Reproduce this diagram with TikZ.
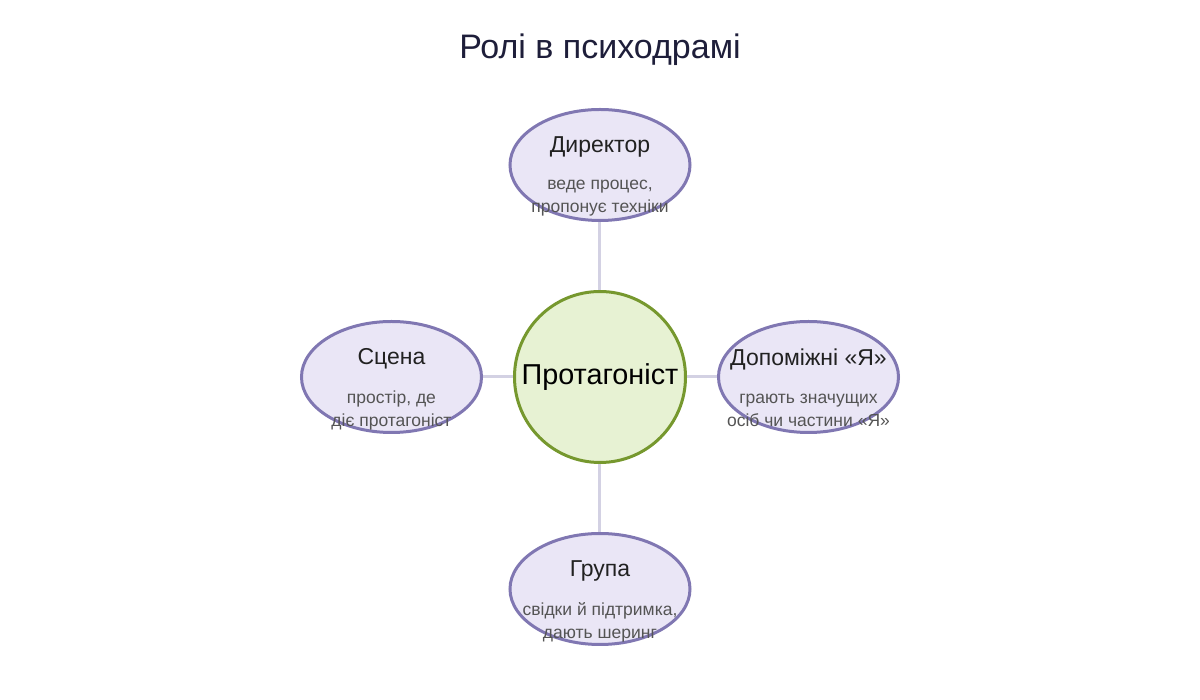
\documentclass[tikz,border=0pt]{standalone}
\usepackage{fontspec}
\setmainfont{Liberation Sans}
\usetikzlibrary{positioning,shapes.geometric}

\definecolor{hubfill}{HTML}{E7F2D3}
\definecolor{hubline}{HTML}{76982E}
\definecolor{rolefill}{HTML}{EAE6F6}
\definecolor{roleline}{HTML}{8077B2}
\definecolor{linkcol}{HTML}{D3D1E3}
\definecolor{headcol}{HTML}{1E1E3A}

\begin{document}
\begin{tikzpicture}[
    x=1pt, y=1pt,
    node distance=68pt,
    hub/.style={circle, draw=hubline, fill=hubfill, line width=3pt, minimum size=171pt, inner sep=0pt, font=\fontsize{28.8}{32}\selectfont},
    role/.style={ellipse, draw=roleline, fill=rolefill, line width=3pt, minimum width=180pt, minimum height=111pt, inner sep=0pt},
    roletitle/.style={text=black!87, font=\fontsize{23}{27}\selectfont},
    roledesc/.style={text=black!67, align=center, font=\fontsize{17.5}{23}\selectfont},
    link/.style={draw=linkcol, line width=3pt},
    heading/.style={text=headcol, font=\fontsize{34}{40}\selectfont}
]
\useasboundingbox (-600,-323) rectangle (600,377);

\node[heading] (title) at (0,327) {Ролі в психодрамі};

\node[hub] (hub) {Протагоніст};
\node[role, above=of hub] (dir) {};
\node[role, below=of hub] (group) {};
\node[role, left=30pt of hub] (stage) {};
\node[role, right=30pt of hub] (aux) {};

\draw[link] (hub) -- (dir);
\draw[link] (hub) -- (group);
\draw[link] (hub) -- (stage);
\draw[link] (hub) -- (aux);

% texts over the ellipses
\node[roletitle] (dir-t) at ([yshift=18pt]dir.center) {Директор};
\node[roledesc] (dir-d) at ([yshift=-33pt]dir.center) {веде процес,\\пропонує техніки};

\node[roletitle] (stage-t) at ([yshift=18pt]stage.center) {Сцена};
\node[roledesc] (stage-d) at ([yshift=-33pt]stage.center) {простір, де\\діє протагоніст};

\node[roletitle] (aux-t) at ([yshift=18pt]aux.center) {Допоміжні «Я»};
\node[roledesc] (aux-d) at ([yshift=-33pt]aux.center) {грають значущих\\осіб чи частини «Я»};

\node[roletitle] (group-t) at ([yshift=18pt]group.center) {Група};
\node[roledesc] (group-d) at ([yshift=-33pt]group.center) {свідки й підтримка,\\дають шеринг};
\end{tikzpicture}
\end{document}
